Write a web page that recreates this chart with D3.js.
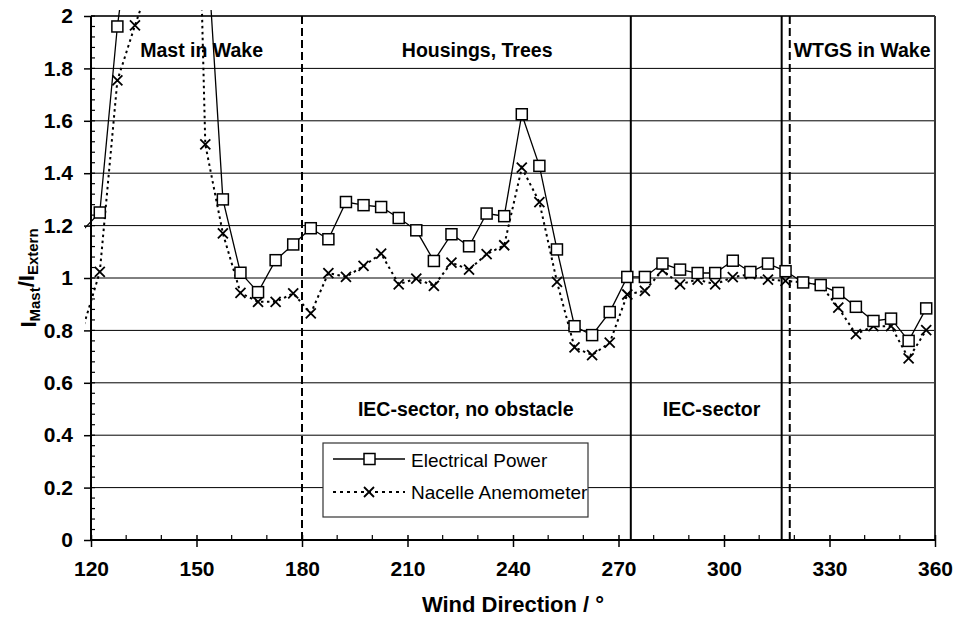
<!DOCTYPE html>
<html><head><meta charset="utf-8">
<script src="https://cdn.jsdelivr.net/npm/d3@7"></script>
<style>
html,body{margin:0;padding:0;background:#fff;}
svg{display:block;font-family:"Liberation Sans",Arial,sans-serif;}
</style></head>
<body><svg id="c" width="965" height="619"></svg>
<script>
const directions = [117.5,122.5,127.5,132.5,137.5,142.5,147.5,152.5,157.5,162.5,167.5,172.5,177.5,182.5,187.5,192.5,197.5,202.5,207.5,212.5,217.5,222.5,227.5,232.5,237.5,242.5,247.5,252.5,257.5,262.5,267.5,272.5,277.5,282.5,287.5,292.5,297.5,302.5,307.5,312.5,317.5,322.5,327.5,332.5,337.5,342.5,347.5,352.5,357.5];
const electricalPower = [1.18,1.25,1.96,2.47,2.9,3.1,2.9,2.38,1.30,1.02,0.946,1.068,1.128,1.19,1.148,1.29,1.278,1.271,1.229,1.182,1.065,1.167,1.121,1.246,1.236,1.625,1.428,1.109,0.816,0.782,0.870,1.004,1.004,1.055,1.032,1.019,1.019,1.066,1.023,1.055,1.026,0.983,0.973,0.943,0.890,0.836,0.845,0.760,0.884];
const nacelleAnemometer = [0.80,1.023,1.754,1.964,2.16,2.6,4.2,1.51,1.17,0.943,0.909,0.909,0.941,0.865,1.019,1.004,1.046,1.093,0.976,0.998,0.970,1.059,1.032,1.091,1.125,1.421,1.290,0.985,0.735,0.706,0.753,0.937,0.951,1.030,0.976,0.994,0.976,1.003,1.015,0.994,0.989,0.983,0.973,0.887,0.786,0.816,0.816,0.693,0.801];
const seriesNames = ["Electrical Power","Nacelle Anemometer"];
const xTicks = [120,150,180,210,240,270,300,330,360];
const yTicks = [0,0.2,0.4,0.6,0.8,1,1.2,1.4,1.6,1.8,2];
const sectorLines = [{x:180,style:"dashed"},{x:273.5,style:"solid"},{x:316.4,style:"solid"},{x:318.7,style:"dashed"}];
const regionLabels = [
  {text:"Mast in Wake",x:134,y:1.87},
  {text:"Housings, Trees",x:208.4,y:1.87},
  {text:"WTGS in Wake",x:319.8,y:1.87},
  {text:"IEC-sector, no obstacle",x:195.9,y:0.5},
  {text:"IEC-sector",x:282.6,y:0.5}
];

const svg = d3.select("#c");
const L=91,R=935,T=16,B=540;
const x = d3.scaleLinear().domain([120,360]).range([L,R]);
const y = d3.scaleLinear().domain([0,2]).range([B,T]);

// gridlines
svg.append("g").selectAll("line").data(yTicks.filter(d=>d>0)).join("line")
  .attr("x1",L).attr("x2",R).attr("y1",d=>y(d)).attr("y2",d=>y(d))
  .attr("stroke","#000").attr("stroke-width",1);
// frame top/right
svg.append("line").attr("x1",L).attr("x2",R).attr("y1",T).attr("y2",T).attr("stroke","#333").attr("stroke-width",2);
svg.append("line").attr("x1",R).attr("x2",R).attr("y1",T).attr("y2",B).attr("stroke","#333").attr("stroke-width",2);

// sector lines
svg.append("g").selectAll("line").data(sectorLines).join("line")
  .attr("x1",d=>x(d.x)).attr("x2",d=>x(d.x)).attr("y1",T).attr("y2",B)
  .attr("stroke","#000").attr("stroke-width",2)
  .attr("stroke-dasharray",d=>d.style==="dashed"?"8,4":null);

// region labels
svg.append("g").selectAll("text").data(regionLabels).join("text")
  .attr("x",d=>x(d.x)).attr("y",d=>y(d.y)).attr("dy","0.35em")
  .attr("font-size",19.5).attr("font-weight","bold").text(d=>d.text);

// clip
svg.append("clipPath").attr("id","clip").append("rect")
  .attr("x",L-6).attr("y",T-6).attr("width",R-L+12).attr("height",B-T+6);

const ptsE = directions.map((d,i)=>[d,electricalPower[i]]);
const ptsN = directions.map((d,i)=>[d,nacelleAnemometer[i]]);
const line = d3.line().x(d=>x(d[0])).y(d=>y(d[1]));
const gData = svg.append("g").attr("clip-path","url(#clip)");
gData.append("path").datum(ptsN).attr("d",line).attr("fill","none")
  .attr("stroke","#000").attr("stroke-width",2).attr("stroke-dasharray","2.5,3.5");
gData.append("path").datum(ptsE).attr("d",line).attr("fill","none")
  .attr("stroke","#000").attr("stroke-width",1.3);

const inView = p => p[0]>=120 && p[0]<=360 && p[1]<=2.02 && p[1]>=0;
const cross = (g,cx,cy,s)=>{
  g.append("path").attr("d",`M${cx-s},${cy-s}L${cx+s},${cy+s}M${cx-s},${cy+s}L${cx+s},${cy-s}`)
   .attr("stroke","#000").attr("stroke-width",1.8).attr("fill","none");
};
const gM = svg.append("g");
ptsN.filter(inView).forEach(p=>cross(gM,x(p[0]),y(p[1]),5));
gM.selectAll("rect.sq").data(ptsE.filter(inView)).join("rect").attr("class","sq")
  .attr("x",d=>x(d[0])-5.5).attr("y",d=>y(d[1])-5.5).attr("width",11).attr("height",11)
  .attr("fill","#fff").attr("stroke","#000").attr("stroke-width",1.5);

// axes
const yAxis = d3.axisLeft(y).tickValues(yTicks).tickSize(7).tickPadding(11).tickFormat(d=>d3.format("")(d));
const gy = svg.append("g").attr("transform",`translate(${L},0)`).call(yAxis);
gy.selectAll("text").attr("font-size",21).attr("font-weight","bold").attr("font-family","Liberation Sans, Arial, sans-serif").attr("fill","#000");
gy.selectAll("line").attr("stroke","#000").attr("stroke-width",1.5);
gy.select(".domain").attr("stroke","#000").attr("stroke-width",2).attr("d",`M0,${T}V${B}`);
// y minor ticks (inside)
svg.append("g").selectAll("line").data(d3.range(0,2.001,0.04)).join("line")
  .attr("x1",L).attr("x2",L+4).attr("y1",d=>y(d)).attr("y2",d=>y(d))
  .attr("stroke","#000").attr("stroke-width",1.2);

const xAxis = d3.axisBottom(x).tickValues(xTicks).tickSize(7).tickPadding(14);
const gx = svg.append("g").attr("transform",`translate(0,${B})`).call(xAxis);
gx.selectAll("text").attr("font-size",21).attr("font-weight","bold").attr("font-family","Liberation Sans, Arial, sans-serif").attr("fill","#000");
gx.selectAll("line").attr("stroke","#000").attr("stroke-width",1.5).attr("y1",-5);
gx.select(".domain").attr("stroke","#000").attr("stroke-width",2).attr("d",`M${L},0H${R}`);
// x minor ticks (inside)
svg.append("g").selectAll("line").data(d3.range(130,360,10).filter(d=>d%30!==0)).join("line")
  .attr("x1",d=>x(d)).attr("x2",d=>x(d)).attr("y1",B).attr("y2",B-5)
  .attr("stroke","#000").attr("stroke-width",1.2);

// axis titles
svg.append("text").attr("x",(L+R)/2).attr("y",604).attr("dy","0.35em").attr("text-anchor","middle")
  .attr("font-size",22).attr("font-weight","bold").text("Wind Direction / °");
const yt = svg.append("text").attr("transform",`translate(28,${(T+B)/2}) rotate(-90)`)
  .attr("text-anchor","middle").attr("dy","0.35em").attr("font-size",22).attr("font-weight","bold");
yt.append("tspan").text("I");
yt.append("tspan").attr("font-size",15).attr("dy","0.3em").text("Mast");
yt.append("tspan").attr("dy","-0.3em").text("/I");
yt.append("tspan").attr("font-size",15).attr("dy","0.3em").text("Extern");

// legend
const lg = svg.append("g").attr("transform","translate(323,443)");
lg.append("rect").attr("width",265).attr("height",74).attr("fill","#fff").attr("stroke","#333").attr("stroke-width",1.2);
lg.append("line").attr("x1",10).attr("x2",82).attr("y1",16).attr("y2",16).attr("stroke","#000").attr("stroke-width",1.3);
lg.append("rect").attr("x",41).attr("y",10.5).attr("width",11).attr("height",11).attr("fill","#fff").attr("stroke","#000").attr("stroke-width",1.5);
lg.append("line").attr("x1",10).attr("x2",82).attr("y1",49).attr("y2",49).attr("stroke","#000").attr("stroke-width",2).attr("stroke-dasharray","3,4");
cross(lg,46,49,5);
lg.selectAll("text.lt").data(seriesNames).join("text").attr("class","lt")
  .attr("x",88).attr("y",(d,i)=>17+i*32).attr("dy","0.35em").attr("font-size",19).text(d=>d);
</script></body></html>
